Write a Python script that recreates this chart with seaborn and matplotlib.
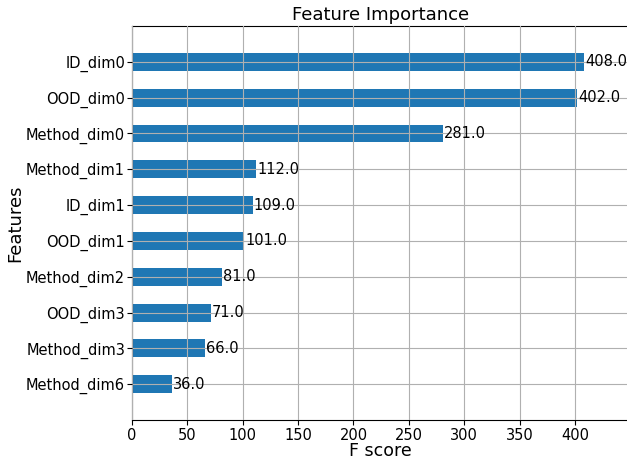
import matplotlib
matplotlib.use("Agg")
import matplotlib.pyplot as plt
import seaborn as sns
import pandas as pd

features = ["ID_dim0", "OOD_dim0", "Method_dim0", "Method_dim1", "ID_dim1",
            "OOD_dim1", "Method_dim2", "OOD_dim3", "Method_dim3", "Method_dim6"]
scores = [408.0, 402.0, 281.0, 112.0, 109.0, 101.0, 81.0, 71.0, 66.0, 36.0]

df = pd.DataFrame({"feature": features, "score": scores})

fig = plt.figure(figsize=(6.27, 4.59), dpi=100)
W, H = 627, 459
ax = fig.add_axes([132 / W, (H - 420) / H, 497 / W, (420 - 26) / H])

sns.barplot(data=df, x="score", y="feature", orient="h", width=0.5,
            color="#1f77b4", saturation=1, ax=ax)

# value labels just past the end of each bar
for i, v in enumerate(scores):
    ax.text(v + 1, i, f"{v}", va="center", fontsize=10.5)

ax.set_xlim(0, max(scores) * 1.1)
ax.set_ylim(len(features), -1)
ax.grid(True, color="#b0b0b0", linewidth=0.8)
ax.set_axisbelow(False)
ax.tick_params(labelsize=10.5, length=3.5)
ax.tick_params(axis="y", pad=1.5)
ax.tick_params(axis="x", pad=2)
ax.set_title("Feature Importance", fontsize=13, pad=4)
ax.set_xlabel("F score", fontsize=12.5)
ax.set_ylabel("Features", fontsize=13)
ax.yaxis.set_label_coords(-0.217, 0.5)
ax.xaxis.set_label_coords(0.5, -0.055)

fig.savefig("out.png", dpi=100)
